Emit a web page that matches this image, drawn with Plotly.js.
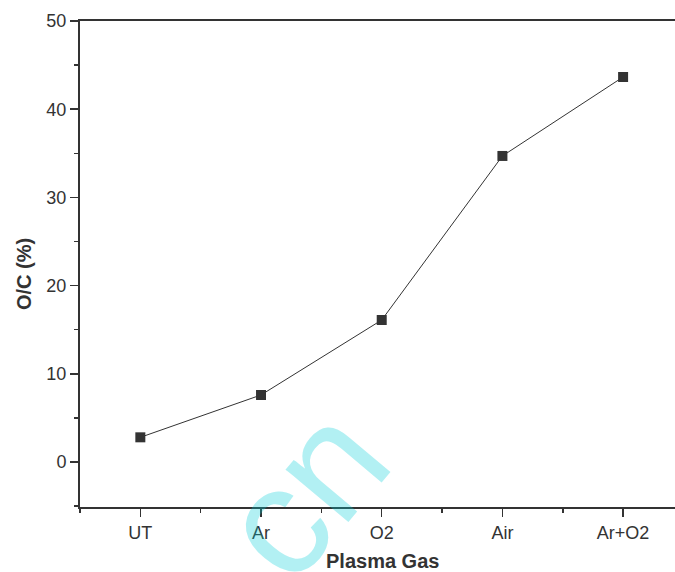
<!DOCTYPE html>
<html>
<head>
<meta charset="utf-8">
<script src="https://cdn.plot.ly/plotly-3.0.1.min.js"></script>
<style>html,body{margin:0;padding:0;background:#fff;}#chart{width:675px;height:572px;}</style>
</head>
<body>
<div id="chart"></div>
<script>
const categories = ["UT", "Ar", "O2", "Air", "Ar+O2"];
const ocPercent = [2.8, 7.6, 16.1, 34.7, 43.65];
const yTickVals = [0, 10, 20, 30, 40, 50];
const xTitle = "Plasma Gas";
const yTitle = "O/C (%)";

const xIdx = categories.map((c, i) => i);
const ink = "#333333";
const PL = 80, PT = 21, PW = 595, PH = 486;
const px = v => (v - PL) / PW;
const py = v => (PT + PH - v) / PH;

const trace = {
  x: xIdx,
  y: ocPercent,
  type: "scatter",
  mode: "lines+markers",
  line: {color: ink, width: 1},
  marker: {symbol: "square", size: 10, color: ink},
  hoverinfo: "skip"
};

const layout = {
  width: 675,
  height: 572,
  margin: {l: PL, r: 675 - PL - PW, t: PT, b: 572 - PT - PH},
  paper_bgcolor: "#fff",
  plot_bgcolor: "#fff",
  showlegend: false,
  font: {family: "Liberation Sans, Arial, sans-serif", color: ink},
  xaxis: {
    range: [-0.5, 4.43],
    tickmode: "array",
    tickvals: xIdx,
    ticktext: categories,
    ticks: "outside",
    ticklen: 8,
    tickwidth: 1.5,
    tickcolor: ink,
    showline: true,
    linecolor: ink,
    linewidth: 2,
    mirror: true,
    showgrid: false,
    zeroline: false,
    tickfont: {size: 18, color: ink},
    minor: {tickmode: "array", tickvals: [-0.5, 0.5, 1.5, 2.5, 3.5], ticks: "outside", ticklen: 4, tickwidth: 1.5, tickcolor: ink, showgrid: false}
  },
  yaxis: {
    range: [-5.1, 50],
    tickmode: "array",
    tickvals: yTickVals,
    ticks: "outside",
    ticklen: 8,
    tickwidth: 1.5,
    tickcolor: ink,
    showline: true,
    linecolor: ink,
    linewidth: 2,
    showgrid: false,
    zeroline: false,
    tickfont: {size: 18, color: ink},
    minor: {tickmode: "array", tickvals: [-5, 5, 15, 25, 35, 45], ticks: "outside", ticklen: 4, tickwidth: 1.5, tickcolor: ink, showgrid: false}
  },
  annotations: [
    {
      text: "cn",
      xref: "paper", yref: "paper",
      x: px(303), y: py(492),
      xanchor: "center", yanchor: "middle",
      showarrow: false,
      textangle: -50,
      font: {size: 155, color: "rgba(0,205,215,0.3)", family: "Liberation Sans, Arial, sans-serif"}
    },
    {
      text: "<b>" + xTitle + "</b>",
      xref: "paper", yref: "paper",
      x: px(382), y: py(561),
      xanchor: "center", yanchor: "middle",
      showarrow: false,
      font: {size: 20, color: ink}
    },
    {
      text: "<b>" + yTitle + "</b>",
      xref: "paper", yref: "paper",
      x: px(24), y: py(274),
      xanchor: "center", yanchor: "middle",
      showarrow: false,
      textangle: -90,
      font: {size: 20, color: ink}
    }
  ]
};

Plotly.newPlot("chart", [trace], layout, {displayModeBar: false, staticPlot: true});
</script>
</body>
</html>
